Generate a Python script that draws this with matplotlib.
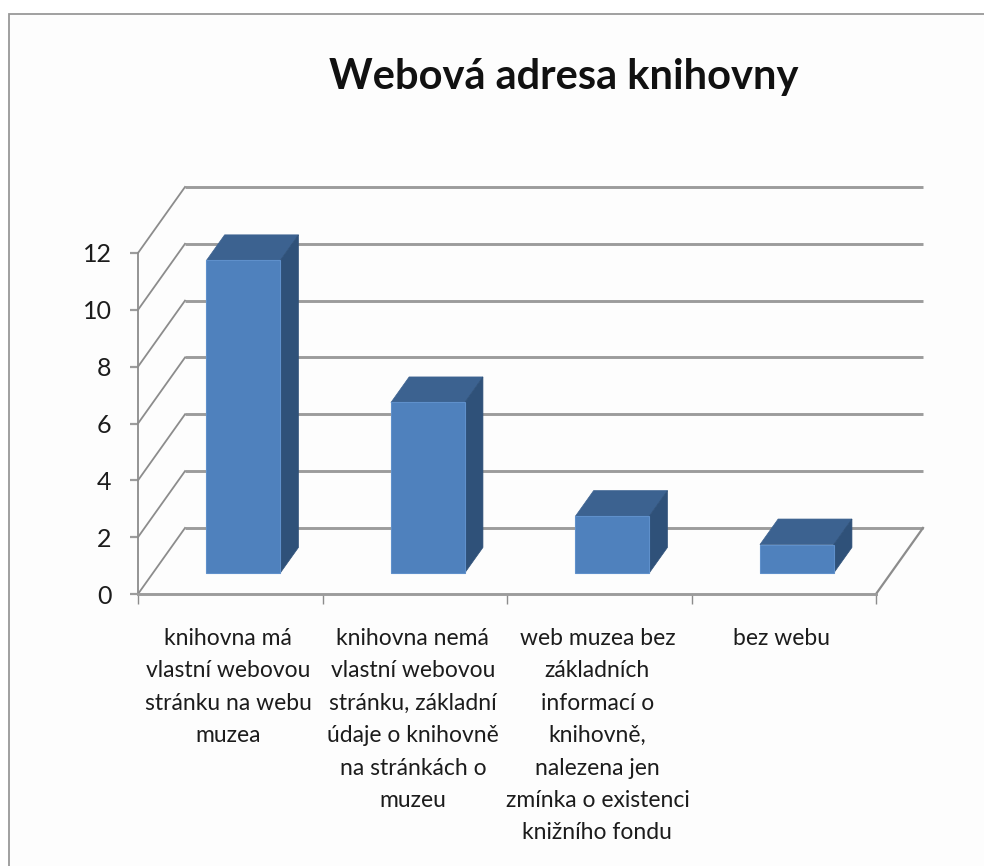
import matplotlib
matplotlib.use("Agg")
import matplotlib.pyplot as plt
from matplotlib.patches import Rectangle

plt.rcParams['font.family'] = ['Lato', 'DejaVu Sans']

title = "Webová adresa knihovny"
categories = [
    "knihovna má\nvlastní webovou\nstránku na webu\nmuzea",
    "knihovna nemá\nvlastní webovou\nstránku, základní\núdaje o knihovně\nna stránkách o\nmuzeu",
    "web muzea bez\nzákladních\ninformací o\nknihovně,\nnalezena jen\nzmínka o existenci\nknižního fondu",
    "bez webu",
]
values = [11, 6, 2, 1]
y_ticks = [0, 2, 4, 6, 8, 10, 12]

# oblique offset of the back wall, in data units
DEPTH_X = 47 / 184.5
DEPTH_Y = 66 / 28.4
BAR_FRONT = 0.318
BAR_BACK = 0.705
BAR_LEFT = 0.29
BAR_RIGHT = 0.69

GRID = "#9c9c9c"
DIAG = "#8c8c8c"
FRONT = "#4f81bd"
TOP = "#3c6290"
SIDE = "#2f5179"


def project(x, y, d):
    return x + d * DEPTH_X, y + d * DEPTH_Y


fig = plt.figure(figsize=(9.84, 8.66), dpi=100)
fig.add_artist(Rectangle((9 / 984, -0.01), 1.0, (866 - 14) / 866 + 0.01,
                         transform=fig.transFigure, facecolor="#fdfdfd",
                         edgecolor="#999999", linewidth=1.3, zorder=-1))

ax = fig.add_axes([138 / 984, (866 - 594) / 866, 738 / 984, 341 / 866])
ax.patch.set_visible(False)
ax.set_xlim(0, len(values))
ax.set_ylim(0, 12)

# walls and floor
for v in y_ticks:
    bx, by = project(0, v, 1)
    ex, ey = project(len(values), v, 1)
    ax.plot([bx, ex], [by, ey], color=GRID, lw=2.1, clip_on=False, zorder=1,
            solid_capstyle="butt")
    ax.plot([0, bx], [v, by], color=DIAG, lw=1.3, clip_on=False, zorder=1)
rx, ry = project(len(values), 0, 1)
ax.plot([len(values), rx], [0, ry], color=DIAG, lw=1.6, clip_on=False, zorder=1)

# bars
for i, v in enumerate(values):
    x0 = i + BAR_LEFT
    x1 = i + BAR_RIGHT
    corners = [project(x0, 0, BAR_FRONT), project(x1, 0, BAR_FRONT)]
    ax.bar(corners[0][0], v, width=corners[1][0] - corners[0][0],
           bottom=corners[0][1], align="edge", color=FRONT,
           edgecolor="#5f90cb", linewidth=0.8, clip_on=False, zorder=3)
    top = [project(x0, v, BAR_FRONT), project(x1, v, BAR_FRONT),
           project(x1, v, BAR_BACK), project(x0, v, BAR_BACK)]
    side = [project(x1, 0, BAR_FRONT), project(x1, 0, BAR_BACK),
            project(x1, v, BAR_BACK), project(x1, v, BAR_FRONT)]
    ax.fill(*zip(*top), color=TOP, clip_on=False, zorder=2.5, lw=0.5)
    ax.fill(*zip(*side), color=SIDE, clip_on=False, zorder=2.5, lw=0.5)

# axes
for s in ["top", "right"]:
    ax.spines[s].set_visible(False)
ax.spines["left"].set_color(DIAG)
ax.spines["left"].set_linewidth(1.3)
ax.spines["bottom"].set_color(GRID)
ax.spines["bottom"].set_linewidth(2.1)
ax.set_yticks(y_ticks)
ax.tick_params(axis="y", labelsize=18, length=6, width=1.6, color=GRID,
               pad=13, labelcolor="#1c1c1c")
ax.set_xticks(range(len(values) + 1))
ax.set_xticklabels([])
ax.tick_params(axis="x", which="major", length=7, width=1.0, color=DIAG)
ax.set_xticks([i + 0.49 for i in range(len(values))], minor=True)
ax.set_xticklabels(categories, minor=True, fontsize=16.5, color="#1c1c1c",
                   linespacing=1.67, ha="center", va="top")
ax.tick_params(axis="x", which="minor", length=0, pad=24.5)

fig.text(564 / 984, (866 - 77) / 866, title, fontsize=30, fontweight="bold",
         color="#111111", ha="center", va="center")

fig.savefig("out.png", dpi=100)
plt.close(fig)
